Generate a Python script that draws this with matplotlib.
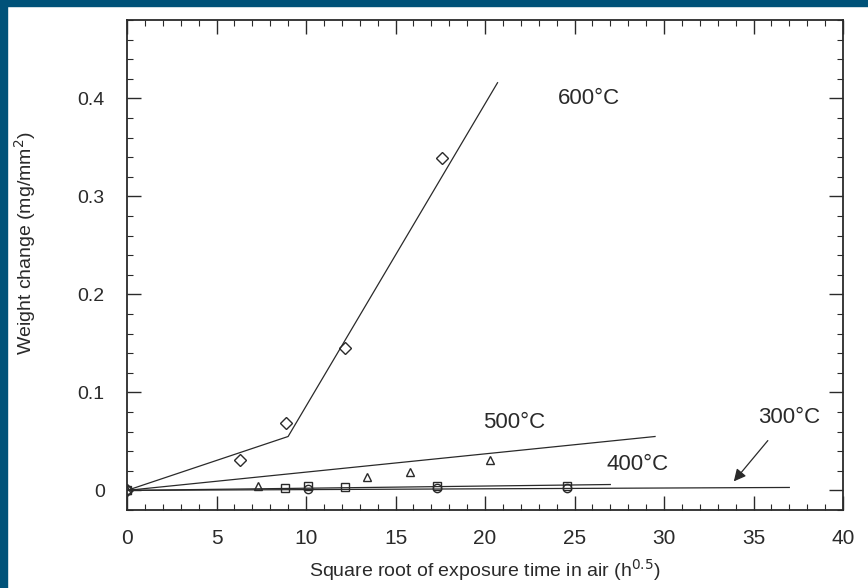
import matplotlib
matplotlib.use("Agg")
import matplotlib.pyplot as plt
from matplotlib.patches import Rectangle
from matplotlib.ticker import MultipleLocator

# weight change (mg/mm^2) vs sqrt of exposure time (h^0.5)
x600 = [0, 6.3, 8.9, 12.2, 17.6]
y600 = [0, 0.031, 0.069, 0.145, 0.339]
fit600_x = [0, 9.0, 20.7]
fit600_y = [0, 0.055, 0.416]

x500 = [0, 7.3, 13.4, 15.8, 20.3]
y500 = [0, 0.005, 0.014, 0.019, 0.031]
fit500_x = [0, 29.5]
fit500_y = [0, 0.055]

x400 = [0, 8.8, 10.1, 12.2, 17.3, 24.6]
y400 = [0, 0.002, 0.004, 0.003, 0.004, 0.005]
fit400_x = [0, 27.0]
fit400_y = [0, 0.006]

x300 = [0, 10.1, 17.3, 24.6]
y300 = [0, 0.001, 0.002, 0.002]
fit300_x = [0, 37.0]
fit300_y = [0, 0.003]

border = "#005279"
ink = "#2a2a2a"

fig = plt.figure(figsize=(8.68, 5.88), dpi=100)
fig.patches.append(Rectangle((0, 0), 7 / 868, 1, transform=fig.transFigure,
                             color=border, zorder=0))
fig.patches.append(Rectangle((0, 1 - 6 / 588), 1, 6 / 588, transform=fig.transFigure,
                             color=border, zorder=0))

ax = fig.add_axes([127 / 868, 78 / 588, 716 / 868, 490 / 588])

# fitted lines
for fx, fy in [(fit600_x, fit600_y), (fit500_x, fit500_y),
               (fit400_x, fit400_y), (fit300_x, fit300_y)]:
    ax.plot(fx, fy, color=ink, lw=0.9)

# measured points
mk = dict(ls="none", ms=6, mfc="none", mec=ink, mew=1.0)
ax.plot(x600, y600, marker="D", **mk)
ax.plot(x500, y500, marker="^", **mk)
ax.plot(x400, y400, marker="s", **mk)
ax.plot(x300, y300, marker="o", **mk)

txt = dict(fontsize=16, family="Liberation Sans", color=ink, ha="center", va="center")
ax.text(25.8, 0.400, "600°C", **txt)
ax.text(21.6, 0.069, "500°C", **txt)
ax.text(28.5, 0.026, "400°C", **txt)
ax.text(37.0, 0.074, "300°C", **txt)
ax.annotate("", xy=(33.8, 0.007), xytext=(35.9, 0.053),
            arrowprops=dict(arrowstyle="-|>", color=ink, lw=0.9, mutation_scale=18))

ax.set_xlim(0, 40)
ax.set_ylim(-0.02, 0.48)
ax.xaxis.set_major_locator(MultipleLocator(5))
ax.xaxis.set_minor_locator(MultipleLocator(1))
ax.yaxis.set_minor_locator(MultipleLocator(0.02))
ax.set_yticks([0, 0.1, 0.2, 0.3, 0.4])
ax.set_yticklabels(["0", "0.1", "0.2", "0.3", "0.4"])

ax.tick_params(which="both", direction="in", top=True, right=True, color=ink)
ax.tick_params(which="major", length=10, width=1)
ax.tick_params(which="minor", length=4.5, width=0.8)
ax.tick_params(axis="y", labelsize=14, pad=16)
ax.tick_params(axis="x", labelsize=15, pad=14)
for lab in ax.get_xticklabels() + ax.get_yticklabels():
    lab.set_family("Liberation Sans")
    lab.set_color(ink)
for s in ax.spines.values():
    s.set_linewidth(1.3)
    s.set_color(ink)

ax.set_xlabel("Square root of exposure time in air (h$^{0.5}$)", fontsize=14,
              family="Liberation Sans", color=ink, labelpad=6)
ax.set_ylabel("Weight change (mg/mm$^{2}$)", fontsize=14,
              family="Liberation Sans", color=ink)
ax.yaxis.set_label_coords(-0.125, 0.545)

fig.savefig("out.png", dpi=100)
